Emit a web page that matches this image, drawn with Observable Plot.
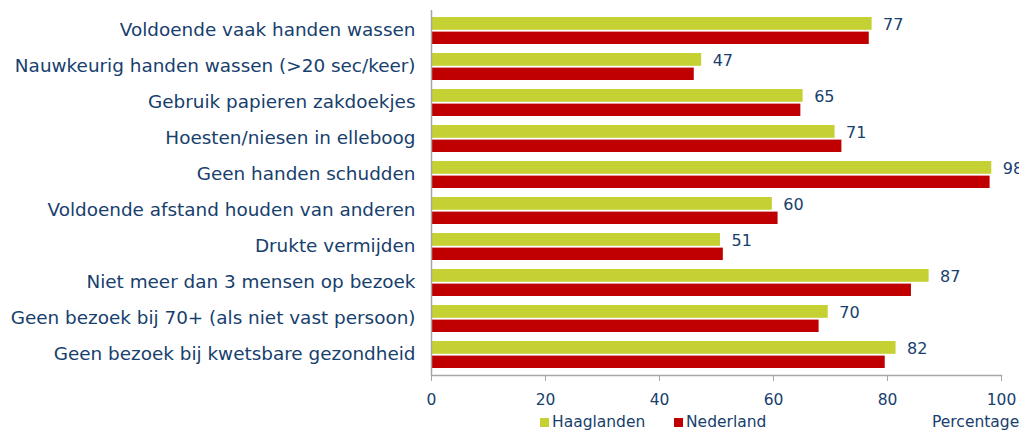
<!DOCTYPE html>
<html><head><meta charset="utf-8">
<script src="https://cdn.jsdelivr.net/npm/d3@7"></script>
<script src="https://cdn.jsdelivr.net/npm/@observablehq/plot@0.6"></script>
<style>
body{margin:0;background:#fff;font-family:"DejaVu Sans",Verdana,sans-serif;}
#wrap{position:relative;width:1019px;height:430px;overflow:hidden;}
#legend{position:relative;height:20px;font-size:15.5px;color:#17406d;}
.item{position:absolute;top:3px;line-height:18px;white-space:nowrap;}
.sw{display:inline-block;width:9px;height:9px;margin-right:3px;vertical-align:0px;}
</style></head><body>
<div id="wrap"><div id="chart"></div><div id="legend"></div></div>
<script>
const categories = [
  "Voldoende vaak handen wassen",
  "Nauwkeurig handen wassen (>20 sec/keer)",
  "Gebruik papieren zakdoekjes",
  "Hoesten/niesen in elleboog",
  "Geen handen schudden",
  "Voldoende afstand houden van anderen",
  "Drukte vermijden",
  "Niet meer dan 3 mensen op bezoek",
  "Geen bezoek bij 70+ (als niet vast persoon)",
  "Geen bezoek bij kwetsbare gezondheid"
];
const haaglanden = [77.3, 47.4, 65.2, 70.8, 98.3, 59.8, 50.7, 87.3, 69.6, 81.5];
const nederland  = [76.8, 46.1, 64.8, 72.0, 98.0, 60.8, 51.2, 84.2, 68.0, 79.6];
const seriesNames = ["Haaglanden", "Nederland"];
const seriesColors = ["#c5d132", "#c00000"];
const xTicks = [0, 20, 40, 60, 80, 100];
const axisTitle = "Percentage";
const textColor = "#17406d";
const lineColor = "#a6a6a6";

const rows = categories.map((c, i) => ({category: c, h: haaglanden[i], n: nederland[i]}));

const chart = Plot.plot({
  width: 1019, height: 410,
  marginLeft: 431, marginRight: 18, marginTop: 10, marginBottom: 35,
  style: {fontFamily: "'DejaVu Sans', Verdana, sans-serif", color: textColor, background: "white", overflow: "visible"},
  x: {domain: [0, 100]},
  y: {domain: categories, paddingInner: 0.24, paddingOuter: 0.12},
  marks: [
    Plot.barX(rows, {y: "category", x: "h", fill: seriesColors[0], insetBottom: 14.2}),
    Plot.barX(rows, {y: "category", x: "n", fill: seriesColors[1], insetTop: 14.6}),
    Plot.ruleX([0], {stroke: lineColor, strokeWidth: 1.5}),
    Plot.frame({anchor: "bottom", stroke: lineColor, strokeWidth: 1.5}),
    Plot.text(rows, {y: "category", x: "h", text: d => String(Math.round(d.h)), dx: 11, dy: -6.5, textAnchor: "start", fontSize: 16, fill: textColor}),
    Plot.axisX({ticks: xTicks, tickSize: 6, tickPadding: 12, fontSize: 15.5, stroke: lineColor, fill: textColor, label: null}),
    Plot.axisY({tickSize: 0, tickPadding: 16, fontSize: 18.4, dy: -1, fill: textColor, label: null})
  ]
});
document.getElementById("chart").appendChild(chart);

const legend = document.getElementById("legend");
const positions = [540, 674];
seriesNames.forEach((name, i) => {
  const d = document.createElement("div");
  d.className = "item";
  d.style.left = positions[i] + "px";
  d.innerHTML = `<span class="sw" style="background:${seriesColors[i]}"></span>${name}`;
  legend.appendChild(d);
});
const t = document.createElement("div");
t.className = "item";
t.style.left = "932px";
t.textContent = axisTitle;
legend.appendChild(t);
</script>
</body></html>
